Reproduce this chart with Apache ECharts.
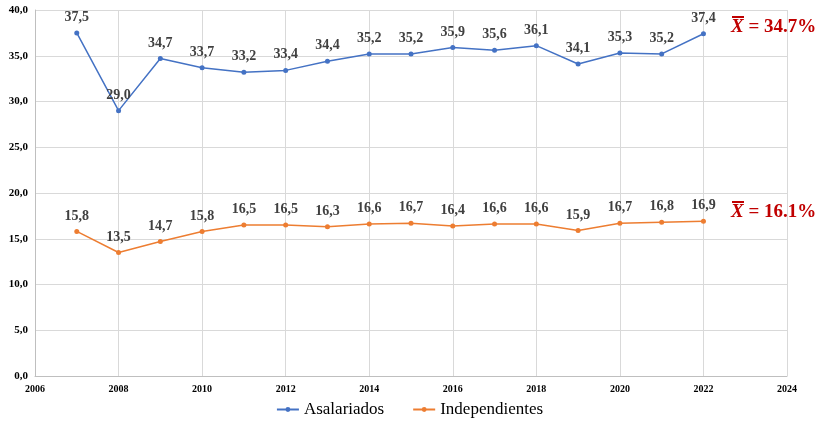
<!DOCTYPE html>
<html>
<head>
<meta charset="utf-8">
<script src="https://cdn.jsdelivr.net/npm/echarts@6/dist/echarts.min.js"></script>
<style>
html, body { margin: 0; padding: 0; background: #fff; }
#chart { width: 819px; height: 425px; }
</style>
</head>
<body>
<div id="chart"></div>
<script>
var years = [2007, 2008, 2009, 2010, 2011, 2012, 2013, 2014, 2015, 2016, 2017, 2018, 2019, 2020, 2021, 2022];
var asalariados = [37.5, 29.0, 34.7, 33.7, 33.2, 33.4, 34.4, 35.2, 35.2, 35.9, 35.6, 36.1, 34.1, 35.3, 35.2, 37.4];
var independientes = [15.8, 13.5, 14.7, 15.8, 16.5, 16.5, 16.3, 16.6, 16.7, 16.4, 16.6, 16.6, 15.9, 16.7, 16.8, 16.9];
var meanAsal = '34.7%';
var meanIndep = '16.1%';

var chart = echarts.init(document.getElementById('chart'));

function pairs(vals) {
    return years.map(function (y, i) { return [y, vals[i]]; });
}
function comma(v) {
    return v.toFixed(1).replace('.', ',');
}

var serif = '"Liberation Serif", "DejaVu Serif", serif';

var labelStyle = {
    show: true,
    position: 'top',
    distance: 6,
    fontFamily: serif,
    fontWeight: 'bold',
    fontSize: 14,
    color: '#404040',
    formatter: function (p) { return comma(p.value[1]); }
};

// mean annotation: italic X with a bar drawn over it
function meanText(top, val) {
    return {
        type: 'group',
        left: 731,
        top: top,
        children: [
            {
                type: 'rect',
                shape: { x: 1, y: 0, width: 12, height: 2 },
                style: { fill: '#C00000' }
            },
            {
                type: 'text',
                x: 0,
                y: 2,
                style: {
                    text: '{x|X} = ' + val,
                    fontFamily: serif,
                    fontWeight: 'bold',
                    fontSize: 19,
                    fill: '#C00000',
                    rich: { x: { fontFamily: serif, fontStyle: 'italic', fontWeight: 'bold', fontSize: 19, color: '#C00000' } }
                }
            }
        ]
    };
}

var option = {
    animation: false,
    grid: { left: 35, right: 32, top: 10, bottom: 49 },
    xAxis: {
        type: 'value',
        min: 2006,
        max: 2024,
        interval: 2,
        axisLine: { show: true, lineStyle: { color: '#bfbfbf' } },
        axisTick: { show: false },
        splitLine: { lineStyle: { color: '#d9d9d9' } },
        axisLabel: {
            fontFamily: serif,
            fontWeight: 'bold',
            fontSize: 10,
            color: '#000',
            margin: 8,
            formatter: function (v) { return String(v); }
        }
    },
    yAxis: {
        type: 'value',
        min: 0,
        max: 40,
        interval: 5,
        axisLine: { show: true, lineStyle: { color: '#bfbfbf' } },
        axisTick: { show: false },
        splitLine: { lineStyle: { color: '#d9d9d9' } },
        axisLabel: {
            fontFamily: serif,
            fontWeight: 'bold',
            fontSize: 11,
            color: '#000',
            margin: 7,
            formatter: function (v) { return comma(v); }
        }
    },
    legend: {
        bottom: 2,
        left: 'center',
        itemGap: 28,
        itemWidth: 22,
        itemHeight: 6,
        textStyle: { fontFamily: serif, fontSize: 17, color: '#000' },
        data: ['Asalariados', 'Independientes']
    },
    series: [
        {
            name: 'Asalariados',
            type: 'line',
            data: pairs(asalariados),
            symbol: 'circle',
            symbolSize: 5,
            color: '#4472C4',
            lineStyle: { width: 1.5 },
            label: labelStyle
        },
        {
            name: 'Independientes',
            type: 'line',
            data: pairs(independientes),
            symbol: 'circle',
            symbolSize: 5,
            color: '#ED7D31',
            lineStyle: { width: 1.5 },
            label: labelStyle
        }
    ],
    graphic: [
        meanText(16, meanAsal),
        meanText(201, meanIndep)
    ]
};

chart.setOption(option);
</script>
</body>
</html>
